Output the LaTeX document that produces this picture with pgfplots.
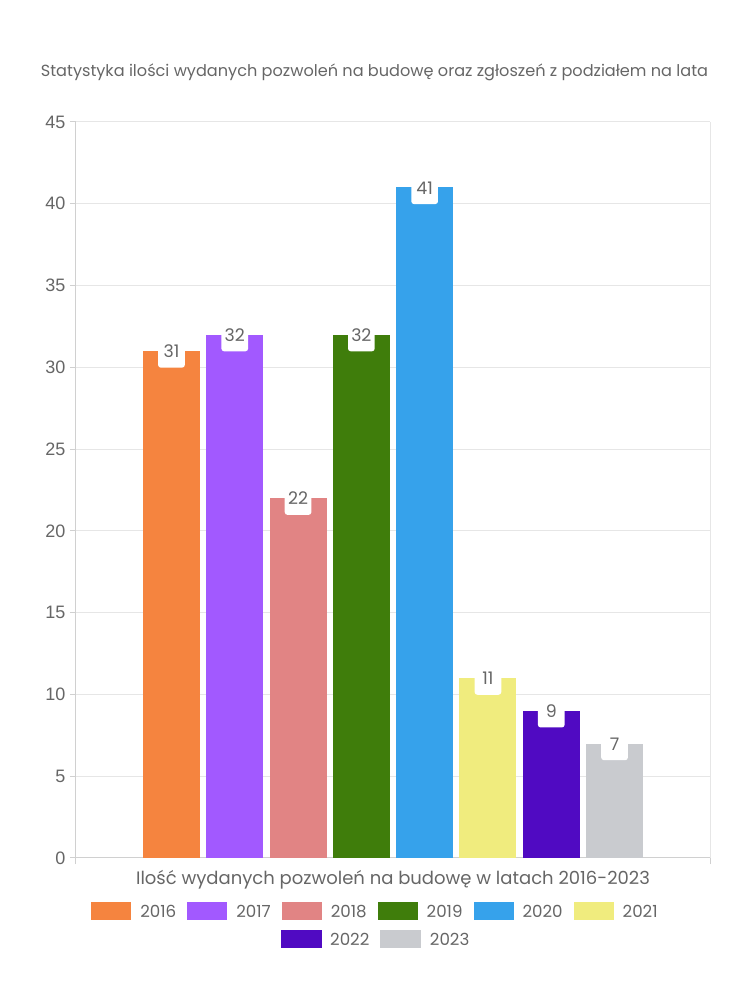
\documentclass[border=0pt]{standalone}
\usepackage{pgfplots}
\pgfplotsset{compat=1.18}
\usepackage{fontspec}
\setmainfont{Poppins}
\newfontfamily\tickfont{Liberation Sans}
\definecolor{txt}{HTML}{666666}
\definecolor{gridc}{HTML}{E6E6E6}
\definecolor{axisc}{HTML}{D0D0D0}
\definecolor{c2016}{HTML}{F5843F}
\definecolor{c2017}{HTML}{A259FF}
\definecolor{c2018}{HTML}{E18484}
\definecolor{c2019}{HTML}{3F7D0B}
\definecolor{c2020}{HTML}{36A2EB}
\definecolor{c2021}{HTML}{F0EC7E}
\definecolor{c2022}{HTML}{500AC2}
\definecolor{c2023}{HTML}{C9CBCF}
\pgfplotsset{
  myleg/.style={legend image code/.code={\fill[#1] (0pt,-5.4pt) rectangle (30pt,7.4pt);}},
  mybar/.style={ybar, bar width=0.9, bar shift=0pt, fill=#1, draw=none, myleg=#1},
  mylegstyle/.style={draw=none, fill=none, inner sep=0pt, text=txt,
     font=\fontsize{12.5}{15}\selectfont,
     nodes={inner sep=0pt},
     /tikz/every odd column/.append style={column sep=6.75pt},
     /tikz/every even column/.append style={column sep=8.25pt}},
}
\begin{document}
\begin{tikzpicture}
\useasboundingbox (0,0) rectangle (562.5pt,750pt);
\begin{axis}[
  at={(57pt,106.5pt)}, anchor=south west,
  width=475.5pt, height=552pt, scale only axis,
  xmin=-1.508, xmax=8.508, ymin=0, ymax=45,
  ytick={0,5,...,45},
  xtick={-1.508,8.508}, xticklabels={},
  ymajorgrids, xmajorgrids,
  grid style={color=gridc, line width=0.75pt},
  axis x line*=bottom, axis y line*=left,
  axis line style={color=axisc, line width=0.75pt, -},
  tick style={color=axisc, line width=0.75pt},
  tick align=outside, major tick length=4.5pt,
  /pgf/number format/assume math mode=true,
  yticklabel style={font=\tickfont\fontsize{13.5}{16}\selectfont, text=txt},
  title={Statystyka ilości wydanych pozwoleń na budowę oraz zgłoszeń z podziałem na lata},
  title style={at={(axis description cs:0.4708,1.057)}, anchor=center, font=\fontsize{12.1}{15}\selectfont, text=txt},
  xlabel={Ilość wydanych pozwoleń na budowę w latach 2016-2023},
  xlabel style={at={(axis description cs:0.5,-0.0299)}, anchor=center, font=\fontsize{13.5}{17}\selectfont, text=txt},
  nodes near coords,
  every node near coord/.append style={fill=white, rounded corners=2pt, inner sep=0pt,
     minimum width=20pt, text height=11pt, text depth=7.5pt, anchor=base, yshift=-5pt,
     font=\fontsize{13}{15}\selectfont, text=txt},
  legend columns=6,
  legend style={mylegstyle, at={(axis description cs:0.4708,-0.0720)}, anchor=center},
]
\addplot[mybar=c2016] coordinates {(0,31)};
\addplot[mybar=c2017] coordinates {(1,32)};
\addplot[mybar=c2018] coordinates {(2,22)};
\addplot[mybar=c2019] coordinates {(3,32)};
\addplot[mybar=c2020] coordinates {(4,41)};
\addplot[mybar=c2021] coordinates {(5,11)};
\addplot[mybar=c2022] coordinates {(6,9)};
\addplot[mybar=c2023] coordinates {(7,7)};
\legend{2016,2017,2018,2019,2020,2021}
\end{axis}
\begin{axis}[
  at={(57pt,106.5pt)}, anchor=south west,
  width=475.5pt, height=552pt, scale only axis,
  hide axis, xmin=0, xmax=1, ymin=0, ymax=1,
  legend columns=2,
  legend style={mylegstyle, at={(axis description cs:0.4716,-0.1100)}, anchor=center},
]
\addlegendimage{myleg=c2022}
\addlegendentry{2022}
\addlegendimage{myleg=c2023}
\addlegendentry{2023}
\end{axis}
\end{tikzpicture}
\end{document}
